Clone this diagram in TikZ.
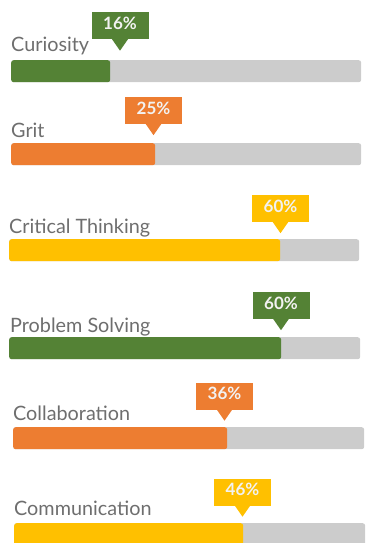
\documentclass[tikz,border=0pt]{standalone}
\usepackage{fontspec}
\setmainfont{Lato}
\usetikzlibrary{positioning}

\definecolor{barGreen}{HTML}{548235}
\definecolor{barOrange}{HTML}{ED7D31}
\definecolor{barYellow}{HTML}{FFC000}
\definecolor{trackGray}{HTML}{CCCCCC}
\definecolor{nameGray}{HTML}{6E6E6E}

\tikzset{
  track/.style={fill=trackGray, rounded corners=2.5pt, minimum height=22pt,
    inner sep=0pt, anchor=north west},
  level/.style={fill=#1, rounded corners=2.5pt, minimum height=22pt,
    inner sep=0pt, anchor=north west},
  skill/.style={text=nameGray, font=\fontsize{19.8}{20}\selectfont,
    inner sep=0pt, anchor=base west},
  badge/.style={fill=#1, text=white!95!black, font=\fontsize{17}{17}\selectfont\bfseries,
    minimum width=57pt, minimum height=27pt, inner sep=0pt,
    text height=12pt, text depth=5pt},
}

\begin{document}
\begin{tikzpicture}[x=1pt,y=-1pt]
  \useasboundingbox (0,0) rectangle (366,543);
  \clip (0,0) rectangle (366,543);

  % Curiosity
  \node[track, minimum width=350pt] (tCur) at (11,60) {};
  \node[level=barGreen, minimum width=99pt] (lCur) at (11,60) {};
  \node[skill] (nCur) at (11,52) {Curiosity};
  \node[badge=barGreen] (bCur) at (120,26) {16\%};
  \fill[barGreen] ([xshift=-8pt,yshift=0.5pt]bCur.south) -- ([xshift=8pt,yshift=0.5pt]bCur.south)
    -- ([yshift=-11pt]bCur.south) -- cycle;

  % Grit
  \node[track, minimum width=350pt] (tGrit) at (11,143) {};
  \node[level=barOrange, minimum width=144pt] (lGrit) at (11,143) {};
  \node[skill] (nGrit) at (11,137) {Grit};
  \node[badge=barOrange] (bGrit) at (153.5,110.5) {25\%};
  \fill[barOrange] ([xshift=-8pt,yshift=0.5pt]bGrit.south) -- ([xshift=8pt,yshift=0.5pt]bGrit.south)
    -- ([yshift=-11pt]bGrit.south) -- cycle;

  % Critical Thinking
  \node[track, minimum width=350pt] (tCrit) at (9,239) {};
  \node[level=barYellow, minimum width=271pt] (lCrit) at (9,239) {};
  \node[skill] (nCrit) at (9,233) {Critical Thinking};
  \node[badge=barYellow] (bCrit) at (280.5,208.5) {60\%};
  \fill[barYellow] ([xshift=-8pt,yshift=0.5pt]bCrit.south) -- ([xshift=8pt,yshift=0.5pt]bCrit.south)
    -- ([yshift=-11pt]bCrit.south) -- cycle;

  % Problem Solving
  \node[track, minimum width=351pt] (tProb) at (9,337) {};
  \node[level=barGreen, minimum width=272pt] (lProb) at (9,337) {};
  \node[skill] (nProb) at (10,332) {Problem Solving};
  \node[badge=barGreen] (bProb) at (281,305.5) {60\%};
  \fill[barGreen] ([xshift=-8pt,yshift=0.5pt]bProb.south) -- ([xshift=8pt,yshift=0.5pt]bProb.south)
    -- ([yshift=-11pt]bProb.south) -- cycle;

  % Collaboration
  \node[track, minimum width=351pt] (tColl) at (13,427) {};
  \node[level=barOrange, minimum width=214pt] (lColl) at (13,427) {};
  \node[skill] (nColl) at (13,420) {Collaboration};
  \node[badge=barOrange] (bColl) at (224.5,396) {36\%};
  \fill[barOrange] ([xshift=-8pt,yshift=0.5pt]bColl.south) -- ([xshift=8pt,yshift=0.5pt]bColl.south)
    -- ([yshift=-11pt]bColl.south) -- cycle;

  % Communication
  \node[track, minimum width=351pt] (tComm) at (14,523) {};
  \node[level=barYellow, minimum width=229pt] (lComm) at (14,523) {};
  \node[skill] (nComm) at (14,515) {Communication};
  \node[badge=barYellow] (bComm) at (242.5,492) {46\%};
  \fill[barYellow] ([xshift=-8pt,yshift=0.5pt]bComm.south) -- ([xshift=8pt,yshift=0.5pt]bComm.south)
    -- ([yshift=-11pt]bComm.south) -- cycle;
\end{tikzpicture}
\end{document}
